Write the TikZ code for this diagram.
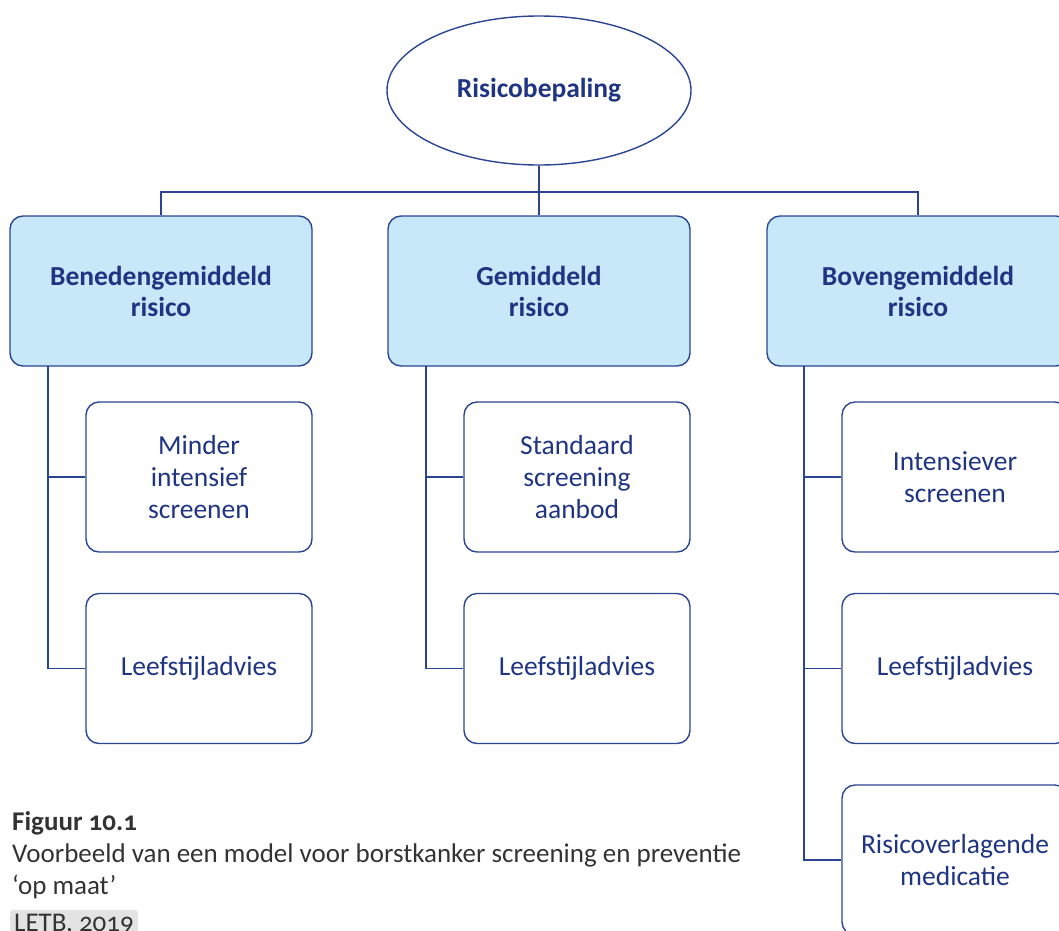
\documentclass[tikz,border=0pt]{standalone}
\usepackage{fontspec}
\setmainfont{Carlito}[Numbers=OldStyle]
\usetikzlibrary{shapes.geometric}
\definecolor{navy}{HTML}{2B4592}
\definecolor{txt}{HTML}{1F3583}
\definecolor{lblue}{HTML}{C7E8F8}
\definecolor{cap}{HTML}{333333}
\definecolor{tagbg}{HTML}{E3E3E3}
\tikzset{
  line/.style={draw=navy, line width=1.4pt},
  headbox/.style={draw=navy, line width=1.4pt, fill=lblue, rounded corners=13pt,
    minimum width=302pt, minimum height=150pt, align=center, text=txt,
    font=\fontsize{27.5}{31}\selectfont\bfseries, inner sep=0pt},
  childbox/.style={draw=navy, line width=1.4pt, fill=white, rounded corners=13pt,
    minimum width=226pt, minimum height=150pt, align=center, text=txt,
    font=\fontsize{27.5}{32}\selectfont, inner sep=0pt},
  topell/.style={ellipse, draw=navy, line width=1.4pt, minimum width=304pt,
    minimum height=149pt, inner sep=0pt, text=txt, font=\fontsize{27.5}{31}\selectfont\bfseries},
  captext/.style={anchor=west, text=cap, inner sep=0pt, font=\fontsize{27}{31}\selectfont}
}
\begin{document}
\begin{tikzpicture}[x=1pt, y=-1pt]
\useasboundingbox (0,0) rectangle (1059,930);
\node[topell] (top) at (539,90.5) {\raisebox{-3pt}{Risicobepaling}};
\node[headbox] (h1) at (161,291) {Benedengemiddeld\\risico};
\node[headbox] (h2) at (539,291) {Gemiddeld\\risico};
\node[headbox] (h3) at (918,291) {Bovengemiddeld\\risico};
\coordinate (bar) at (539,192);
\draw[line] (top.south) -- (bar);
\draw[line] (h1.north) |- (bar) -| (h3.north);
\draw[line] (bar) -- (h2.north);
% children
\node[childbox] (c11) at (199,477) {Minder\\intensief\\screenen};
\node[childbox] (c12) at (199,668.5) {Leefstijladvies};
\node[childbox] (c21) at (577,477) {Standaard\\screening\\aanbod};
\node[childbox] (c22) at (577,668.5) {Leefstijladvies};
\node[childbox] (c31) at (955,477) {Intensiever\\screenen};
\node[childbox] (c32) at (955,668.5) {Leefstijladvies};
\node[childbox] (c33) at (955,860) {Risicoverlagende\\medicatie};
\coordinate (s1) at (48,366);
\coordinate (s2) at (426,366);
\coordinate (s3) at (804,366);
\draw[line] (s1) |- (c12.west);
\draw[line] (s1 |- c11.west) -- (c11.west);
\draw[line] (s2) |- (c22.west);
\draw[line] (s2 |- c21.west) -- (c21.west);
\draw[line] (s3) |- (c33.west);
\draw[line] (s3 |- c31.west) -- (c31.west);
\draw[line] (s3 |- c32.west) -- (c32.west);
% caption
\node[captext, font=\fontsize{27}{31}\selectfont\bfseries] (cap1) at (12,823) {Figuur 10.1};
\node[captext] (cap2) at (12,855) {Voorbeeld van een model voor borstkanker screening en preventie};
\node[captext] (cap3) at (12,887) {‘op maat’};
\node[anchor=north west, fill=tagbg, text=cap, rounded corners=2pt, inner xsep=4pt, inner ysep=4pt,
  font=\fontsize{27}{31}\selectfont] (src) at (10,910) {LETB, 2019};
\end{tikzpicture}
\end{document}
